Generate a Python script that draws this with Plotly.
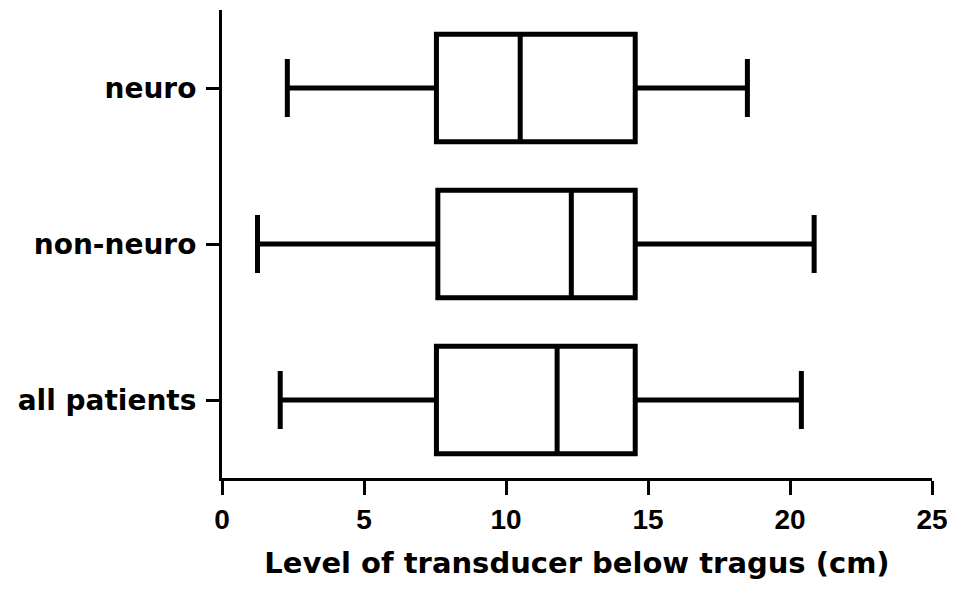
import plotly.graph_objects as go

categories = ["all patients", "non-neuro", "neuro"]
lower_whisker = [2.05, 1.25, 2.3]
q1 = [7.55, 7.6, 7.55]
median = [11.8, 12.3, 10.5]
q3 = [14.55, 14.55, 14.55]
upper_whisker = [20.4, 20.85, 18.5]
x_ticks = [0, 5, 10, 15, 20, 25]

positions = list(range(len(categories)))
fig = go.Figure()

for i, cat in enumerate(categories):
    fig.add_trace(go.Box(
        y=[positions[i]], orientation="h",
        q1=[q1[i]], median=[median[i]], q3=[q3[i]],
        lowerfence=[lower_whisker[i]], upperfence=[upper_whisker[i]],
        width=0.69, whiskerwidth=0.54,
        fillcolor="white", line=dict(color="black", width=5),
        boxpoints=False, showlegend=False, hoverinfo="skip",
    ))

fig.update_layout(
    width=953, height=584,
    margin=dict(l=214, r=29, t=2, b=114),
    plot_bgcolor="white", paper_bgcolor="white",
    showlegend=False,
)
fig.update_xaxes(
    range=[0, 25], tickvals=x_ticks, ticktext=[str(v) for v in x_ticks],
    showgrid=False, zeroline=False,
    showline=True, linecolor="black", linewidth=3,
    ticks="outside", ticklen=14, tickwidth=3, tickcolor="black",
    tickfont=dict(family="Liberation Sans", size=28, color="black", weight="bold"),
    title=dict(text="Level of transducer below tragus (cm)",
               font=dict(family="DejaVu Sans", size=29, color="black", weight="bold"),
               standoff=20),
)
fig.update_yaxes(
    range=[-0.5, 2.5], tickvals=positions, ticktext=categories,
    showgrid=False, zeroline=False,
    showline=True, linecolor="black", linewidth=3,
    ticks="outside", ticklen=13, tickwidth=3, tickcolor="black",
    ticklabelstandoff=4,
    tickfont=dict(family="DejaVu Sans", size=28, color="black", weight="bold"),
)

fig.write_html("out.html")
